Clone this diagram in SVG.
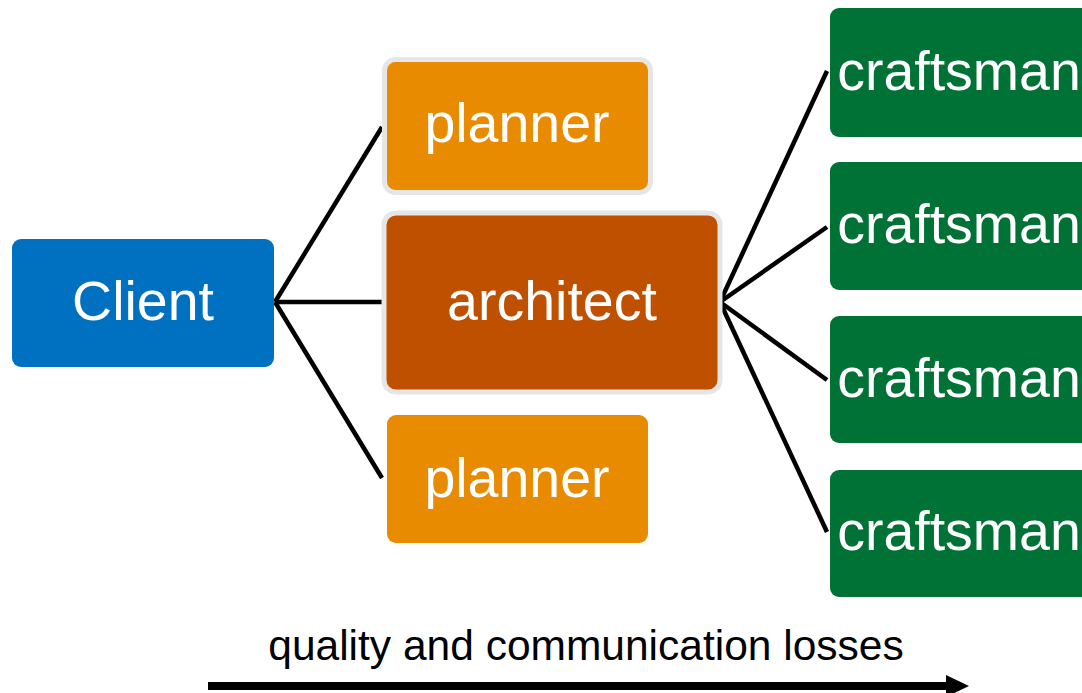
<svg xmlns="http://www.w3.org/2000/svg" width="1082" height="693" viewBox="0 0 1082 693">
<style>
.lbl{font-family:"Liberation Sans",Arial,sans-serif;font-size:55.5px;fill:#fff;text-anchor:middle}
.conn{stroke:#000;stroke-width:4.5;fill:none}
.cap{font-family:"Liberation Sans",Arial,sans-serif;font-size:42.5px;fill:#000;text-anchor:middle}
</style>
<defs>
<marker id="ah" markerWidth="24" markerHeight="24" refX="0" refY="12" orient="auto" markerUnits="userSpaceOnUse">
<path d="M0,1 L23,12 L0,23 Z" fill="#000"/>
</marker>
</defs>
<rect width="1082" height="693" fill="#fff"/>
<g id="connectors">
<line class="conn" x1="275" y1="302" x2="382" y2="127"/>
<line class="conn" x1="275" y1="302" x2="382" y2="302"/>
<line class="conn" x1="275" y1="302" x2="382" y2="478"/>
<line class="conn" x1="720" y1="302" x2="827" y2="71"/>
<line class="conn" x1="720" y1="302" x2="827" y2="227"/>
<line class="conn" x1="720" y1="302" x2="827" y2="380"/>
<line class="conn" x1="720" y1="302" x2="827" y2="532"/>
</g>
<g id="client">
<rect x="12" y="239" width="262" height="128" rx="9" fill="#0070C0"/>
<text class="lbl" x="143" y="320">Client</text>
</g>
<g id="planner1">
<rect x="384.5" y="59.5" width="266" height="133" rx="11" fill="#E88B00" stroke="#E6E6E6" stroke-width="5"/>
<text class="lbl" x="517" y="142">planner</text>
</g>
<g id="architect">
<rect x="384" y="213" width="336" height="179" rx="12" fill="#BF5000" stroke="#E6E6E6" stroke-width="5"/>
<text class="lbl" x="552" y="320">architect</text>
</g>
<g id="planner2">
<rect x="387" y="415" width="261" height="128" rx="9" fill="#E88B00"/>
<text class="lbl" x="517" y="497">planner</text>
</g>
<g id="craftsman1">
<rect x="830" y="8" width="262" height="129" rx="9" fill="#007236"/>
<text class="lbl" x="959" y="90">craftsman</text>
</g>
<g id="craftsman2">
<rect x="830" y="162" width="262" height="128" rx="9" fill="#007236"/>
<text class="lbl" x="959" y="243">craftsman</text>
</g>
<g id="craftsman3">
<rect x="830" y="316" width="262" height="127" rx="9" fill="#007236"/>
<text class="lbl" x="959" y="397">craftsman</text>
</g>
<g id="craftsman4">
<rect x="830" y="470" width="262" height="127" rx="9" fill="#007236"/>
<text class="lbl" x="959" y="550">craftsman</text>
</g>
<g id="losses">
<text class="cap" x="586" y="660">quality and communication losses</text>
<line x1="208" y1="686" x2="946" y2="686" stroke="#000" stroke-width="8" marker-end="url(#ah)"/>
</g>
</svg>
